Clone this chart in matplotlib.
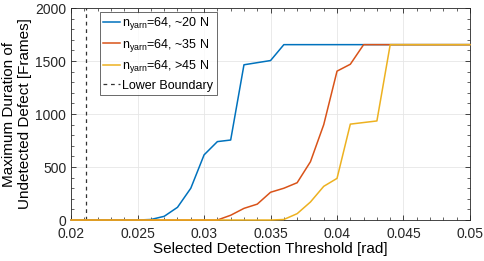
import numpy as np
import matplotlib
matplotlib.use("Agg")
import matplotlib.pyplot as plt
from matplotlib.ticker import MultipleLocator

plt.rcParams['font.family'] = ['Liberation Sans', 'DejaVu Sans']
plt.rcParams['mathtext.fontset'] = 'custom'
plt.rcParams['mathtext.rm'] = 'Liberation Sans'
plt.rcParams['mathtext.it'] = 'Liberation Sans'

# thresholds [rad] and max duration [frames]
thr = [0.020, 0.021, 0.022, 0.023, 0.024, 0.025, 0.026, 0.027, 0.028, 0.029,
       0.030, 0.031, 0.032, 0.033, 0.034, 0.035, 0.036, 0.037, 0.038, 0.039,
       0.040, 0.041, 0.042, 0.043, 0.044, 0.045, 0.046, 0.047, 0.048, 0.049, 0.050]
dur_20 = [0, 0, 0, 0, 0, 0, 5, 35, 120, 300,
          615, 740, 755, 1465, 1485, 1505, 1655, 1655, 1655, 1655,
          1655, 1655, 1655, 1655, 1655, 1655, 1655, 1655, 1655, 1655, 1655]
dur_35 = [0, 0, 0, 0, 0, 0, 0, 0, 0, 0,
          0, 0, 45, 110, 150, 262, 300, 352, 550, 900,
          1405, 1470, 1655, 1655, 1655, 1655, 1655, 1655, 1655, 1655, 1655]
dur_45 = [0, 0, 0, 0, 0, 0, 0, 0, 0, 0,
          0, 0, 0, 0, 0, 0, 5, 60, 170, 318,
          393, 905, 920, 935, 1655, 1655, 1655, 1655, 1655, 1655, 1655]
lower_boundary = 0.0211

labels = [r'n$_{\mathrm{yarn}}$=64, ~20 N',
          r'n$_{\mathrm{yarn}}$=64, ~35 N',
          r'n$_{\mathrm{yarn}}$=64, >45 N']
colors = ['#0072BD', '#D95319', '#EDB120']

fig = plt.figure(figsize=(4.84, 2.61), dpi=100)
ax = fig.add_axes([0.147, 0.157, 0.824, 0.812])

for y, lab, c in zip([dur_20, dur_35, dur_45], labels, colors):
    ax.plot(thr, y, color=c, lw=1.1, label=lab, clip_on=False, zorder=3)
ax.axvline(lower_boundary, color='#333333', ls='--', lw=0.9, dashes=(3, 3),
           label='Lower Boundary')

ax.set_xlim(0.02, 0.05)
ax.set_ylim(0, 2000)
ax.set_xticks([0.02, 0.025, 0.03, 0.035, 0.04, 0.045, 0.05])
ax.set_xticklabels(['0.02', '0.025', '0.03', '0.035', '0.04', '0.045', '0.05'])
ax.set_yticks([0, 500, 1000, 1500, 2000])
ax.xaxis.set_minor_locator(MultipleLocator(0.001))
ax.yaxis.set_minor_locator(MultipleLocator(100))
ax.tick_params(which='both', direction='in', top=True, right=True,
               labelsize=10, colors='#262626')
ax.tick_params(axis='x', pad=5)
ax.tick_params(which='major', length=3.5, width=0.6)
ax.tick_params(which='minor', length=2, width=0.5)
ax.grid(True, which='major', color='#e6e6e6', lw=0.6)
ax.set_axisbelow(True)
for s in ax.spines.values():
    s.set_color('#262626')
    s.set_linewidth(0.6)

ax.set_xlabel('Selected Detection Threshold [rad]', fontsize=11, labelpad=1)
ax.set_ylabel('Maximum Duration of\nUndetected Defect [Frames]', fontsize=11,
              labelpad=2)

leg = ax.legend(loc='upper left', bbox_to_anchor=(0.065, 0.995), fontsize=9,
                frameon=True, fancybox=False, handlelength=1.3,
                handletextpad=0.2, borderpad=0.3, labelspacing=0.35,
                borderaxespad=0.2)
leg.get_frame().set_edgecolor('#262626')
leg.get_frame().set_linewidth(0.6)

fig.savefig('out.png', dpi=100)
